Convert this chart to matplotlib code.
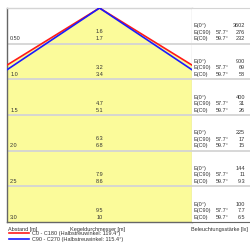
import numpy as np
import matplotlib
matplotlib.use("Agg")
import matplotlib.pyplot as plt
from matplotlib.lines import Line2D

plt.rcParams['font.family'] = ['Liberation Sans', 'DejaVu Sans']

# ------------------ data ------------------
distances = [0.5, 1.0, 1.5, 2.0, 2.5, 3.0]
dist_labels = ["0.50", "1.0", "1.5", "2.0", "2.5", "3.0"]
diam_c90 = ["1.6", "3.2", "4.7", "6.3", "7.9", "9.5"]
diam_c0 = ["1.7", "3.4", "5.1", "6.8", "8.6", "10"]
e_0 = ["3602", "900", "400", "225", "144", "100"]
e_c90 = ["276", "69", "31", "17", "11", "7.7"]
e_c0 = ["232", "58", "26", "15", "9.3", "6.5"]
half_c0 = 59.7    # C0 - C180, Halbstreuwinkel 119.4
half_c90 = 57.7   # C90 - C270, Halbstreuwinkel 115.4

W, H = 251, 246
fig = plt.figure(figsize=(W / 100, H / 100), dpi=100)

x0, x1, y0, y1 = 7, 192, 8, 222   # pixel frame of the cone area
ax = fig.add_axes([x0 / W, 1 - y1 / H, (x1 - x0) / W, (y1 - y0) / H])
axr = fig.add_axes([x1 / W, 1 - y1 / H, (W - x1) / W, (y1 - y0) / H])

dmax = distances[-1]
for a in (ax, axr):
    a.set_ylim(dmax, 0)
    a.set_xticks([])
    a.set_yticks([])
ax.set_xlim(-1.37, 1.37)
axr.set_xlim(0, 1)

light = '#d4d4d4'
dark = '#666666'
txt = '#333333'
fs = 4

# cone
d = np.array([0, dmax])
r0 = np.tan(np.deg2rad(half_c0)) * d
r90 = np.tan(np.deg2rad(half_c90)) * d
ax.fill([0, -r0[1], r0[1]], [0, dmax, dmax], color='#fbfb9a', lw=0, zorder=1)

# row separators
for dd in distances[:-1]:
    ax.axhline(dd, color=light, lw=1.3, zorder=2)
    axr.axhline(dd, color=light, lw=1.3, zorder=2)

ax.plot([-r0[1], 0, r0[1]], [dmax, 0, dmax], color='#ff1a1a', lw=1.2, zorder=3)
ax.plot([-r90[1], 0, r90[1]], [dmax, 0, dmax], color='#1a1aff', lw=1.2, zorder=4)

# spines
for s in ('top', 'right'):
    ax.spines[s].set_color(light)
for s in ('left', 'bottom'):
    ax.spines[s].set_color(dark)
for s in ax.spines.values():
    s.set_linewidth(1.0)
axr.spines['left'].set_visible(False)
axr.spines['right'].set_visible(False)
axr.spines['top'].set_color(light)
axr.spines['bottom'].set_color(dark)

# texts in rows
tl = ax.get_yaxis_transform()
tr = axr.get_yaxis_transform()
for i, dd in enumerate(distances):
    ax.text(0.017, dd - 0.07, dist_labels[i], transform=tl, fontsize=fs, color=txt, va='center')
    ax.text(0.0, dd - 0.165, diam_c90[i], fontsize=fs, color=txt, va='center', ha='center')
    ax.text(0.0, dd - 0.07, diam_c0[i], fontsize=fs, color=txt, va='center', ha='center')

    axr.text(0.03, dd - 0.25, "E(0°)", transform=tr, fontsize=fs, color=txt, va='center')
    axr.text(0.03, dd - 0.16, "E(C90)", transform=tr, fontsize=fs, color=txt, va='center')
    axr.text(0.03, dd - 0.07, "E(C0)", transform=tr, fontsize=fs, color=txt, va='center')
    axr.text(0.41, dd - 0.16, f"{half_c90}°", transform=tr, fontsize=fs, color=txt, va='center')
    axr.text(0.41, dd - 0.07, f"{half_c0}°", transform=tr, fontsize=fs, color=txt, va='center')
    axr.text(0.9, dd - 0.25, e_0[i], transform=tr, fontsize=fs, color=txt, va='center', ha='right')
    axr.text(0.9, dd - 0.16, e_c90[i], transform=tr, fontsize=fs, color=txt, va='center', ha='right')
    axr.text(0.9, dd - 0.07, e_c0[i], transform=tr, fontsize=fs, color=txt, va='center', ha='right')

# axis captions
fig.text(8 / W, 1 - 229.5 / H, "Abstand [m]", fontsize=fs, color=txt, va='center')
fig.text(125 / W, 1 - 229.5 / H, "Kegeldurchmesser [m]", fontsize=fs, color=txt, va='center', ha='right')
fig.text(191 / W, 1 - 229.5 / H, "Beleuchtungsstärke [lx]", fontsize=fs, color=txt, va='center')

# legend
handles = [Line2D([], [], color='#ff1a1a', lw=1.2),
           Line2D([], [], color='#1a1aff', lw=1.2)]
labels = [f"C0 - C180 (Halbstreuwinkel: {2 * half_c0:.1f}°)",
          f"C90 - C270 (Halbstreuwinkel: {2 * half_c90:.1f}°)"]
fig.legend(handles, labels, loc='upper left', bbox_to_anchor=(9 / W, 1 - 231 / H),
           frameon=False, fontsize=fs, handlelength=3.6, handletextpad=0.6,
           labelspacing=0.25, borderpad=0, borderaxespad=0, labelcolor=txt)

fig.savefig("out.png", dpi=100)
